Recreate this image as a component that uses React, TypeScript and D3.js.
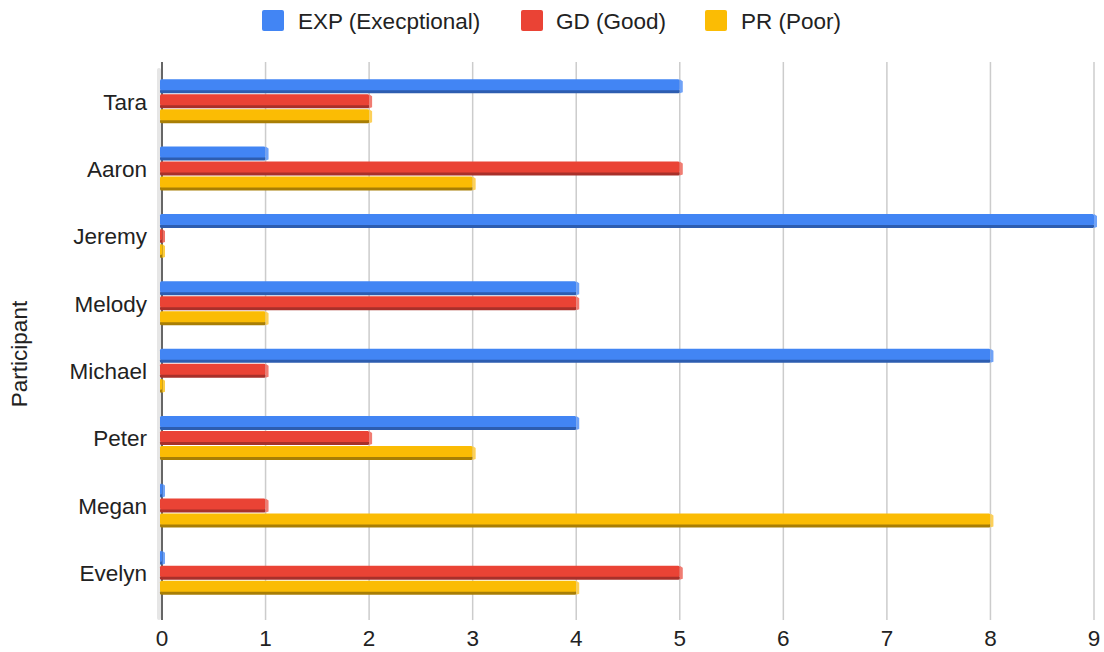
import * as d3 from "d3";

const participants = ["Tara", "Aaron", "Jeremy", "Melody", "Michael", "Peter", "Megan", "Evelyn"];
const seriesNames = ["EXP (Execptional)", "GD (Good)", "PR (Poor)"];
const expValues = [5, 1, 9, 4, 8, 4, 0, 0];
const gdValues = [2, 5, 0, 4, 1, 2, 1, 5];
const prValues = [2, 3, 0, 1, 0, 3, 8, 4];
const xTicks = [0, 1, 2, 3, 4, 5, 6, 7, 8, 9];

const COLORS = [
  { front: "#4285f4", dark: "#2d5db0", side: "#6fa2f7" },
  { front: "#ea4335", dark: "#a8302a", side: "#f07c72" },
  { front: "#fbbc04", dark: "#a87e05", side: "#fcd05a" },
];

const WIDTH = 1104;
const HEIGHT = 652;
const FONT = "'Liberation Sans', Arial, sans-serif";
const FS = 22.5;

export default function App() {
  const allSeries = [expValues, gdValues, prValues];

  // plot area
  const left = 162;
  const right = 1094;
  const top = 68;
  const bottom = 607;

  const x = d3.scaleLinear().domain([0, 9]).range([left, right]);
  const y = d3.scaleBand<string>().domain(participants).range([top, bottom]).padding(0);
  const inner = d3.scaleBand<string>().domain(seriesNames).range([0, 45]).padding(0);

  const legendItems = [
    { name: seriesNames[0], sx: 262, tx: 298 },
    { name: seriesNames[1], sx: 521, tx: 556 },
    { name: seriesNames[2], sx: 705, tx: 741 },
  ];

  return (
    <svg
      width={WIDTH}
      height={HEIGHT}
      style={{ position: "absolute", left: 0, top: 0, background: "#fff" }}
      fontFamily={FONT}
    >
      {/* legend */}
      {legendItems.map((d, i) => (
        <g key={d.name}>
          <rect x={d.sx} y={10} width={22} height={21} rx={2} fill={COLORS[i].front} />
          <text x={d.tx} y={21} dy="0.35em" fontSize={FS} fill="#222">
            {d.name}
          </text>
        </g>
      ))}

      {/* floor / wall shading left of axis */}
      <rect x={157} y={top} width={4} height={620 - top} rx={2} fill="#e6e6e6" />

      {/* grid */}
      {xTicks.map((t) => (
        <line
          key={t}
          x1={x(t)}
          x2={x(t)}
          y1={top - 6}
          y2={620}
          stroke={t === 0 ? "#333" : "#cccccc"}
          strokeWidth={1.5}
        />
      ))}

      {/* bars */}
      {participants.map((p, i) => {
        const cy = y(p)! + y.bandwidth() / 2;
        return (
          <g key={p}>
            {allSeries.map((vals, s) => {
              const t = cy - 22.5 + inner(seriesNames[s])!;
              const x0 = x(0) - 2;
              const xe = x(vals[i]);
              const c = COLORS[s];
              return (
                <g key={s}>
                  {xe > x0 && (
                    <>
                      <rect x={x0} y={t + 10} width={xe - x0} height={4} rx={1.5} fill={c.dark} />
                      <rect x={x0} y={t} width={xe - x0} height={11} rx={1.5} fill={c.front} />
                    </>
                  )}
                  <polygon
                    points={`${xe},${t} ${xe + 3},${t + 2} ${xe + 3},${t + 13} ${xe},${t + 14}`}
                    fill={vals[i] === 0 ? c.front : c.side}
                    opacity={vals[i] === 0 ? 0.75 : 1}
                  />
                </g>
              );
            })}
          </g>
        );
      })}

      {/* y labels */}
      {participants.map((p) => (
        <text
          key={p}
          x={147}
          y={y(p)! + y.bandwidth() / 2}
          dy="0.35em"
          textAnchor="end"
          fontSize={FS}
          fill="#222"
        >
          {p}
        </text>
      ))}

      {/* x labels */}
      {xTicks.map((t) => (
        <text key={t} x={x(t)} y={646} textAnchor="middle" fontSize={FS} fill="#222">
          {t}
        </text>
      ))}

      <text
        transform={`translate(27, 354) rotate(-90)`}
        textAnchor="middle"
        fontSize={FS}
        fill="#222"
      >
        Participant
      </text>
    </svg>
  );
}
